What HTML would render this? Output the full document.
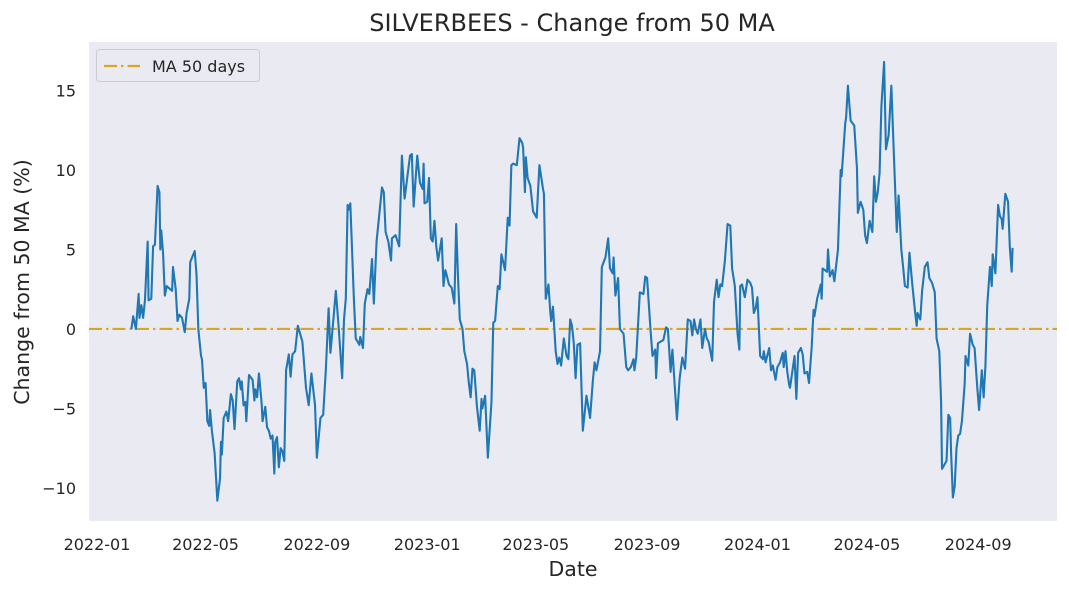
<!DOCTYPE html>
<html><head><meta charset="utf-8">
<style>
html,body{margin:0;padding:0;background:#fff;}
svg{display:block;font-family:"DejaVu Sans","Liberation Sans",sans-serif;}
</style></head>
<body>
<svg id="chart" width="1069" height="592" viewBox="0 0 1069 592" xmlns="http://www.w3.org/2000/svg">
<rect x="0" y="0" width="1069" height="592" fill="#ffffff"/>
<rect x="89" y="42" width="968" height="479" fill="#eaeaf2"/>
<g id="xticks"></g>
<g id="yticks"></g>
<g id="series"></g>
<text x="572" y="31" text-anchor="middle" font-size="24" fill="#262626">SILVERBEES - Change from 50 MA</text>
<text x="573" y="576" text-anchor="middle" font-size="20.5" fill="#262626">Date</text>
<text x="29" y="282" text-anchor="middle" font-size="20.5" fill="#262626" transform="rotate(-90 29 282)">Change from 50 MA (%)</text>
<g>
<rect x="96.5" y="49.5" width="163" height="32" rx="3" fill="#eaeaf2" stroke="#cccccc" stroke-width="1"/>
<line x1="104" y1="66" x2="140" y2="66" stroke="#DAA520" stroke-width="2.2" stroke-dasharray="13,4,2.5,4"/>
<text x="152" y="72" font-size="16" fill="#262626">MA 50 days</text>
</g>
</svg>
<script>
// days since 2022-01-01
const days = [38,40,43,46,47,49,51,53,56,57,60,62,64,67,69,70,71,73,75,77,83,84,87,89,91,94,97,99,102,103,108,110,112,115,116,118,120,122,124,125,127,130,133,136,137,138,140,143,145,148,150,152,155,157,159,160,162,164,165,168,172,174,175,177,179,182,183,186,188,190,192,194,196,197,199,201,203,205,207,209,212,214,216,219,222,227,231,234,237,241,243,247,250,253,256,258,261,264,267,271,273,275,277,278,280,284,286,290,291,294,296,299,301,304,306,309,312,315,317,319,322,325,326,330,334,337,340,346,348,350,354,357,360,361,362,365,367,369,371,373,375,377,381,383,385,386,389,392,395,397,399,401,404,406,409,411,413,415,417,420,423,425,426,429,432,436,438,440,443,445,447,451,454,456,458,460,464,467,470,471,473,474,476,479,482,486,489,493,494,496,499,501,502,504,507,509,511,513,516,519,521,523,525,527,529,531,534,537,541,545,548,550,552,556,558,560,562,565,567,570,571,573,576,578,582,585,587,590,593,594,596,600,604,606,608,612,614,617,618,620,626,629,631,634,636,641,644,647,650,653,656,658,660,662,664,667,669,672,674,676,678,680,682,685,687,689,691,694,697,700,702,705,708,710,711,713,716,719,722,724,726,728,730,733,736,737,739,743,745,747,750,752,755,758,759,761,763,765,766,769,771,773,775,778,780,782,785,787,790,792,793,796,800,801,802,807,808,810,813,815,819,822,823,827,828,830,833,837,840,841,844,847,849,851,854,857,859,861,863,865,867,870,872,874,875,878,880,884,886,889,891,893,896,898,901,904,906,907,910,912,915,918,920,923,926,928,931,933,934,937,939,941,943,944,946,948,950,952,954,956,959,960,963,965,968,970,973,975,978,980,982,984,987,989,990,993,996,998,1000,1001,1004,1007,1009,1011,1012];
const changePct = [0,0.8,0,2.2,0.7,1.5,0.7,1.8,5.5,1.8,1.9,5.2,5.3,9.0,8.6,5.0,6.2,4.8,2.1,2.7,2.4,3.9,2.5,0.5,0.9,0.7,-0.2,1.0,1.9,4.2,4.9,3.4,0,-1.7,-1.9,-3.7,-3.4,-5.8,-6.1,-5.1,-6.4,-7.8,-10.8,-9.4,-7.1,-7.9,-5.6,-5.2,-5.8,-4.1,-4.5,-6.3,-3.3,-3.1,-3.8,-3.3,-4.8,-4.6,-5.8,-2.9,-3.2,-4.5,-3.8,-4.3,-2.8,-4.7,-5.8,-4.9,-6.2,-6.4,-6.9,-6.7,-9.1,-7.1,-6.8,-8.7,-7.5,-7.7,-8.3,-2.6,-1.6,-3.0,-1.6,-1.4,0.2,-0.8,-3.7,-4.8,-2.8,-4.8,-8.1,-5.6,-5.4,-2.5,1.3,-1.5,0.4,2.4,0.2,-3.1,0.6,1.9,7.8,7.5,7.9,1.8,-0.6,-1.0,-0.5,-1.2,1.6,2.5,2.2,4.4,1.6,5.5,7.2,8.9,8.6,6.1,5.5,4.3,5.7,5.9,5.2,10.9,8.2,10.9,11.0,7.7,10.9,9.2,8.8,10.4,7.9,8.0,9.5,5.7,5.5,6.8,5.2,4.3,5.7,2.7,3.7,3.5,2.8,2.6,1.6,6.6,3.3,0.6,0,-1.4,-2.2,-3.4,-4.3,-2.5,-2.6,-4.9,-6.4,-4.4,-5.0,-4.2,-8.1,-4.6,0.4,0.5,2.7,2.5,4.7,3.7,7.0,6.5,10.3,10.4,10.3,12.0,11.7,11.4,8.6,10.8,9.5,9.0,7.4,7.0,10.3,8.8,8.5,1.9,2.8,1.1,0.5,1.4,-1.4,-2.2,-1.8,-2.3,-0.6,-1.7,-1.9,0.6,0.2,-0.9,-3.1,-1.0,-0.9,-6.4,-4.2,-5.6,-3.3,-2.1,-2.6,-1.4,3.9,4.2,4.5,5.7,3.8,3.5,4.5,2.1,3.2,0,-0.3,-2.4,-2.6,-2.4,-1.9,-2.6,-1.8,2.3,2.2,3.3,3.2,-0.2,-1.7,-1.3,-3.1,-0.9,-0.7,0.1,0,-2.7,-1.3,-5.7,-3.1,-1.8,-2.5,0.6,0.5,-0.4,0.6,0,-0.3,0.6,-1.2,0,-0.6,-0.8,-1.4,-2.0,1.7,3.1,2.0,2.8,2.7,4.3,6.6,6.5,3.8,2.7,-0.3,-1.3,2.7,2.8,2.0,3.1,2.9,2.6,1.0,1.3,2.0,-1.7,-1.9,-1.4,-2.1,-1.2,-2.6,-2.3,-3.2,-2.4,-2.1,-1.5,-2.4,-1.4,-2.7,-3.5,-3.7,-2.5,-1.7,-4.4,-1.5,-1.2,-1.6,-2.8,-2.7,-3.4,-1.1,1.2,0.8,1.9,2.8,1.9,3.8,3.6,5.0,3.3,3.7,3.0,5.0,10.0,9.6,12.9,13.3,15.3,13.1,12.8,10.1,7.3,8.0,7.5,5.9,5.4,6.8,6.1,9.6,8.0,8.6,9.8,14.0,16.8,11.3,11.9,12.2,15.3,12.2,6.1,8.4,5.0,3.9,2.7,2.6,4.8,2.9,1.2,0.2,1.0,0.6,2.4,3.9,4.2,3.2,2.9,2.3,-0.6,-1.4,-4.6,-8.8,-8.5,-8.3,-5.4,-5.6,-7.7,-10.6,-9.9,-7.5,-6.7,-6.6,-5.8,-3.5,-1.7,-2.3,-0.3,-1.0,-1.2,-3.7,-5.1,-2.6,-4.3,-2.3,1.5,3.9,2.7,4.7,3.5,7.8,7.1,6.9,6.3,8.5,8.0,5.1,3.6,5.1];
const xTickDays = [0,120,243,365,485,608,730,851,974];
const xTickLabels = ["2022-01","2022-05","2022-09","2023-01","2023-05","2023-09","2024-01","2024-05","2024-09"];
const yTickValues = [-10,-5,0,5,10,15];
const yTickLabels = ["\u221210","\u22125","0","5","10","15"];
const maLevel = 0;

const NS = "http://www.w3.org/2000/svg";
const X0 = 89, X1 = 1057, Y0 = 42, Y1 = 521;
const xMinDay = -8.84, xMaxDay = 1061.1;
const yMin = -12.08, yMax = 18.05;
function xScale(d){ return X0 + (d - xMinDay) / (xMaxDay - xMinDay) * (X1 - X0); }
function yScale(v){ return Y1 - (v - yMin) / (yMax - yMin) * (Y1 - Y0); }

const xg = document.getElementById('xticks');
xTickDays.forEach((d, i) => {
  const t = document.createElementNS(NS, 'text');
  t.setAttribute('x', xScale(d));
  t.setAttribute('y', 550);
  t.setAttribute('text-anchor', 'middle');
  t.setAttribute('font-size', '16');
  t.setAttribute('fill', '#262626');
  t.textContent = xTickLabels[i];
  
  
  xg.appendChild(t);
});
const yg = document.getElementById('yticks');
yTickValues.forEach((v, i) => {
  const t = document.createElementNS(NS, 'text');
  t.setAttribute('x', 76);
  t.setAttribute('y', yScale(v) + 6);
  t.setAttribute('text-anchor', 'end');
  t.setAttribute('font-size', '16');
  t.setAttribute('fill', '#262626');
  t.textContent = yTickLabels[i];
  
  
  yg.appendChild(t);
});

const sg = document.getElementById('series');
const ma = document.createElementNS(NS, 'line');
ma.setAttribute('x1', X0);
ma.setAttribute('x2', X1);
ma.setAttribute('y1', yScale(maLevel));
ma.setAttribute('y2', yScale(maLevel));
ma.setAttribute('stroke', '#DAA520');
ma.setAttribute('stroke-width', '2.2');
ma.setAttribute('stroke-dasharray', '13,4,2.5,4');


sg.appendChild(ma);

let dstr = '';
days.forEach((d, i) => {
  dstr += (i ? 'L' : 'M') + xScale(d).toFixed(2) + ',' + yScale(changePct[i]).toFixed(2);
});
const p = document.createElementNS(NS, 'path');
p.setAttribute('d', dstr);
p.setAttribute('fill', 'none');
p.setAttribute('stroke', '#1f77b4');
p.setAttribute('stroke-width', '2.1');
p.setAttribute('stroke-linejoin', 'round');


sg.appendChild(p);
</script>
</body></html>
